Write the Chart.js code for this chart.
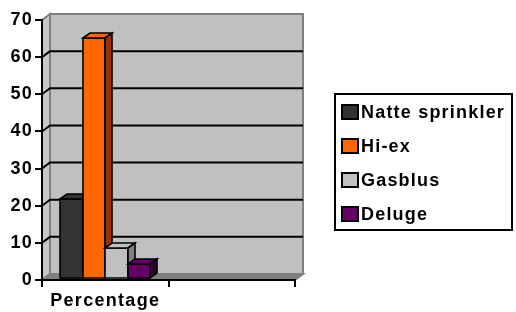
<!DOCTYPE html>
<html>
<head>
<meta charset="utf-8">
<script src="https://cdn.jsdelivr.net/npm/chart.js@4.4.0/dist/chart.umd.min.js"></script>
<style>
  html, body { margin: 0; padding: 0; background: #fff; }
</style>
</head>
<body>
<canvas id="myChart" width="516" height="312"></canvas>
<script>
const categories = ["Percentage", ""];
const seriesNames = ["Natte sprinkler", "Hi-ex", "Gasblus", "Deluge"];
const nattePct = [21.7, null];
const hiexPct = [65.2, null];
const gasblusPct = [8.7, null];
const delugePct = [4.4, null];
const yMax = 70;
const yStep = 10;

const frontColors = ["#333333", "#FF6600", "#C0C0C0", "#660066"];
const topColors = ["#333333", "#FF6600", "#C0C0C0", "#660066"];
const sideColors = ["#1a1a1a", "#993300", "#808080", "#330033"];

const fontFam = "'Liberation Sans', Arial, sans-serif";

// depth of the walls and of the bars
const WX = 8, WY = -6;
const BX = 7, BY = -5;

function poly(ctx, pts, fill) {
  ctx.beginPath();
  ctx.moveTo(pts[0][0], pts[0][1]);
  for (let i = 1; i < pts.length; i++) ctx.lineTo(pts[i][0], pts[i][1]);
  ctx.closePath();
  ctx.fillStyle = fill;
  ctx.fill();
  ctx.stroke();
}

const wallPlugin = {
  id: "wall3d",
  beforeDraw(chart) {
    const ctx = chart.ctx;
    const a = chart.chartArea;
    const y = chart.scales.y;
    ctx.save();
    ctx.lineWidth = 2;
    ctx.strokeStyle = "#808080";
    // left wall
    poly(ctx, [[a.left, a.top], [a.left + WX, a.top + WY], [a.left + WX, a.bottom + WY], [a.left, a.bottom]], "#c8c8c8");
    // back wall
    poly(ctx, [[a.left + WX, a.top + WY], [a.right + WX, a.top + WY], [a.right + WX, a.bottom + WY], [a.left + WX, a.bottom + WY]], "#c0c0c0");
    // floor
    poly(ctx, [[a.left, a.bottom], [a.right, a.bottom], [a.right + WX, a.bottom + WY], [a.left + WX, a.bottom + WY]], "#808080");
    // grid lines on the walls
    ctx.strokeStyle = "#000";
    ctx.lineWidth = 2;
    y.ticks.forEach(t => {
      if (t.value <= 0 || t.value >= yMax) return;
      const py = y.getPixelForValue(t.value);
      ctx.beginPath();
      ctx.moveTo(a.left, py);
      ctx.lineTo(a.left + WX, py + WY);
      ctx.lineTo(a.right + WX, py + WY);
      ctx.stroke();
    });
    ctx.restore();
    ctx.letterSpacing = "1.3px";
  },
  afterDatasetsDraw(chart) {
    const ctx = chart.ctx;
    ctx.save();
    ctx.strokeStyle = "#000";
    ctx.lineWidth = 1.6;
    ctx.lineJoin = "miter";
    chart.data.datasets.forEach((ds, i) => {
      const meta = chart.getDatasetMeta(i);
      meta.data.forEach((bar, j) => {
        if (ds.data[j] == null) return;
        const p = bar.getProps(["x", "y", "base", "width"], true);
        const l = Math.round(p.x - p.width / 2);
        const r = Math.round(p.x + p.width / 2);
        const t = Math.round(p.y);
        const b = Math.round(p.base) - 1;
        poly(ctx, [[l, t], [r, t], [r, b], [l, b]], frontColors[i]);
        poly(ctx, [[l, t], [l + BX, t + BY], [r + BX, t + BY], [r, t]], topColors[i]);
        poly(ctx, [[r, t], [r + BX, t + BY], [r + BX, b + BY], [r, b]], sideColors[i]);
      });
    });
    ctx.restore();
  },
  afterDraw(chart) {
    const ctx = chart.ctx;
    ctx.save();
    ctx.letterSpacing = "1.2px";
    // legend box
    ctx.fillStyle = "#fff";
    ctx.fillRect(335, 94, 177, 136);
    ctx.strokeStyle = "#000";
    ctx.lineWidth = 2;
    ctx.strokeRect(335, 94, 177, 136);
    ctx.font = "bold 18px " + fontFam;
    ctx.textBaseline = "middle";
    ctx.textAlign = "left";
    chart.data.datasets.forEach((ds, i) => {
      const cy = 112 + i * 34;
      ctx.fillStyle = ds.backgroundColor;
      ctx.fillRect(342, cy - 7, 16, 14);
      ctx.strokeRect(342, cy - 7, 16, 14);
      ctx.fillStyle = "#000";
      ctx.fillText(ds.label, 361, cy + 1);
    });
    ctx.restore();
  }
};

const seriesValues = [nattePct, hiexPct, gasblusPct, delugePct];

const ctx = document.getElementById("myChart").getContext("2d");
const myChart = new Chart(ctx, {
  type: "bar",
  data: {
    labels: categories,
    datasets: seriesNames.map((name, i) => ({
      label: name,
      data: seriesValues[i],
      backgroundColor: frontColors[i],
      borderWidth: 0,
      categoryPercentage: 0.71,
      barPercentage: 1.0,
    })),
  },
  options: {
    responsive: false,
    animation: false,
    events: [],
    layout: { padding: { top: 20, right: 221, left: 0, bottom: 0 } },
    plugins: {
      legend: { display: false },
      tooltip: { enabled: false },
    },
    scales: {
      x: {
        grid: { drawOnChartArea: false, drawTicks: true, tickLength: 7, color: "#000", lineWidth: 2, offset: true },
        border: { color: "#000", width: 2 },
        ticks: { color: "#000", padding: 3, font: { family: fontFam, size: 18, weight: "bold" } },
        afterFit(s) { s.height = 32; },
      },
      y: {
        min: 0,
        max: yMax,
        grid: { drawOnChartArea: false, drawTicks: true, tickLength: 7, color: "#000", lineWidth: 2 },
        border: { color: "#000", width: 2 },
        ticks: { stepSize: yStep, color: "#000", padding: 2, font: { family: fontFam, size: 18, weight: "bold" } },
        afterFit(s) { s.width = 42; },
      },
    },
  },
  plugins: [wallPlugin],
});
</script>
</body>
</html>
